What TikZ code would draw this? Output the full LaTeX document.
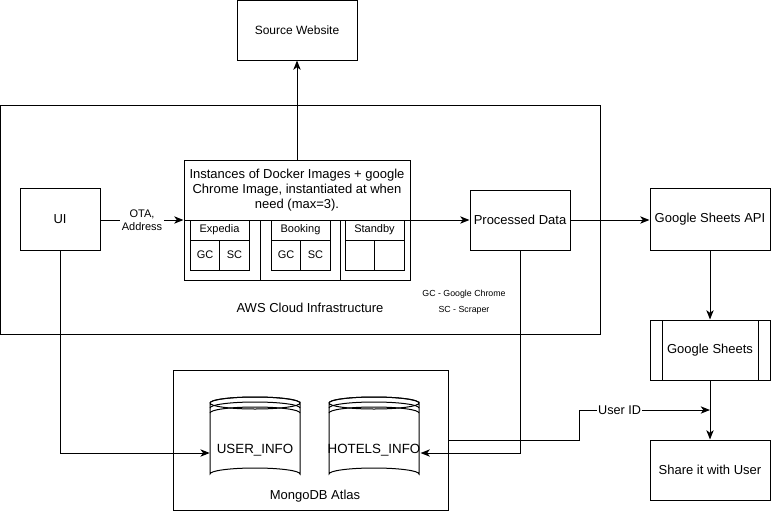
\documentclass[tikz,border=0pt]{standalone}
\usepackage{fontspec}
\setmainfont{Liberation Sans}
\usetikzlibrary{arrows.meta}
\begin{document}
\begin{tikzpicture}[x=0.75pt,y=-0.75pt,
  box/.style={draw,line width=0.75pt,fill=white,inner sep=1pt,font=\fontsize{9.75}{11.25}\selectfont,align=center},
  txt/.style={inner sep=1pt,font=\fontsize{9.75}{11.25}\selectfont,align=center},
  small/.style={inner sep=1pt,font=\fontsize{8.25}{10}\selectfont,align=center},
  tiny/.style={inner sep=1pt,font=\fontsize{6.6}{8}\selectfont},
  ln/.style={line width=0.75pt},
  arrow/.style={line width=0.75pt,-{Stealth[length=7pt,width=5.5pt,inset=2pt]}}]
\useasboundingbox (0,0) rectangle (771,511);
% containers
\node[box,minimum width=450pt,minimum height=171.75pt] (aws) at (300,219.5) {};
\node[txt] (awslabel) at (310,308) {AWS Cloud Infrastructure};
\node[box,minimum width=206.25pt,minimum height=105pt] (mongo) at (310.5,440) {};
\node[txt] (mongolabel) at (315,496) {MongoDB Atlas};
% boxes
\node[box,minimum width=90pt,minimum height=45pt,font=\fontsize{9}{11}\selectfont] (src) at (297,30) {Source Website};
\node[box,minimum width=60pt,minimum height=46.5pt] (ui) at (60,219) {UI};
\node[box,minimum width=169.5pt,minimum height=90pt] (inst) at (297,220) {};
\node[txt] (insttext) at (297,190) {Instances of Docker Images + google\\Chrome Image, instantiated at when\\need (max=3).};
\draw[ln] (184,220) -- (410,220);
\draw[ln] (260,220) -- (260,280) (340,220) -- (340,280);
% sub boxes
\foreach \x in {190,271,345}{
  \draw[ln] (\x,220) rectangle (\x+59,270);
  \draw[ln] (\x,240) -- (\x+59,240) (\x+29.5,240) -- (\x+29.5,270);
}
\node[small] (exp) at (219.5,230) {Expedia};
\node[small] (gc1) at (205,255) {GC};
\node[small] (sc1) at (234.5,255) {SC};
\node[small] (boo) at (300.5,230) {Booking};
\node[small] (gc2) at (286,255) {GC};
\node[small] (sc2) at (315.5,255) {SC};
\node[small] (sta) at (374.5,230) {Standby};
\node[box,minimum width=75pt,minimum height=45pt] (pd) at (520,220) {Processed Data};
\node[box,minimum width=90pt,minimum height=46.5pt] (api) at (710,219) {Google Sheets API};
\node[box,minimum width=90pt,minimum height=45pt] (gs) at (710,350) {Google Sheets};
\draw[ln] (662,320) -- (662,380) (758,320) -- (758,380);
\node[box,minimum width=90pt,minimum height=45pt] (share) at (710,470) {Share it with User};
\node[tiny] (leg1) at (464,294) {GC - Google Chrome};
\node[tiny] (leg2) at (464,310) {SC - Scraper};
% cylinders
\foreach \cx in {255,374}{
  \draw[ln,fill=white] (\cx-45,403) -- (\cx-45,474) arc[start angle=180,end angle=360,x radius=45,y radius=6] -- (\cx+45,403) arc[start angle=0,end angle=360,x radius=45,y radius=6];
  \draw[ln] (\cx-45,403) arc[start angle=180,end angle=360,x radius=45,y radius=6];
  \draw[ln] (\cx-45,408) arc[start angle=180,end angle=360,x radius=45,y radius=6];
  \draw[ln] (\cx-45,413) arc[start angle=180,end angle=360,x radius=45,y radius=6];
}
\node[txt,minimum width=67.5pt,font=\fontsize{10}{12}\selectfont] (user) at (255,450) {USER\_INFO};
\node[txt,minimum width=67.5pt,inner sep=0pt,font=\fontsize{10}{12}\selectfont] (hotels) at (374,450) {HOTELS\_INFO};
% connectors
\draw[arrow] (inst.north) -- (src.south);
\draw[arrow] (ui.east |- 0,220) -- node[small,fill=white] (ota) {OTA,\\Address} (inst.west);
\draw[arrow] (inst.east) -- (pd.west);
\draw[arrow] (pd.east) -- (api.west |- pd.east);
\draw[arrow] (api.south) -- (gs.north);
\draw[arrow] (gs.south) -- (share.north);
\draw[arrow] (ui.south) |- (user.west |- 0,453);
\draw[arrow] (pd.south) |- (hotels.east |- 0,453);
\coordinate (uid) at (710,410);
\draw[arrow] (mongo.east) -- (579,440) -- (579,410) -- node[pos=0.31,txt,fill=white,font=\fontsize{9.5}{11}\selectfont] (uidl) {User ID} (uid);
\end{tikzpicture}
\end{document}
